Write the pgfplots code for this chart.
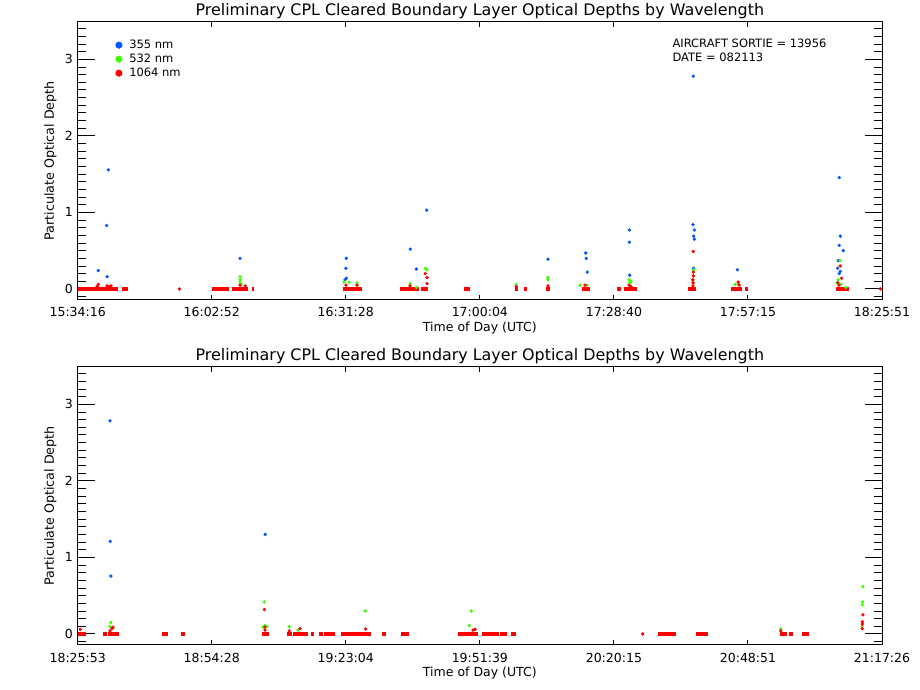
\documentclass[border=0pt]{standalone}
\usepackage{fontspec}
\setmainfont{DejaVu Sans}
\usepackage{pgfplots}
\pgfplotsset{compat=1.18}
\definecolor{cblue}{RGB}{0,85,255}
\definecolor{cgreen}{RGB}{60,255,0}
\definecolor{cred}{RGB}{255,0,0}
\pgfplotsset{
  cplaxis/.style={
    scale only axis, width=804.3pt, height=278.3pt,
    xmin=0, xmax=6, ymin=-0.144, ymax=3.492,
    xtick={0,1,2,3,4,5,6}, ytick={0,1,2,3},
    minor ytick={-0.1,0.1,0.2,0.3,0.4,0.5,0.6,0.7,0.8,0.9,1.1,1.2,1.3,1.4,1.5,1.6,1.7,1.8,1.9,2.1,2.2,2.3,2.4,2.5,2.6,2.7,2.8,2.9,3.1,3.2,3.3,3.4},
    tick align=inside,
    axis line style={line width=1pt},
    tick style={black, line width=1pt},
    major tick length=17pt, minor tick length=8pt,
    xtick style={/pgfplots/major tick length=5pt},
    /pgf/number format/assume math mode=true,
    tick label style={font=\fontsize{12.5}{14}\selectfont},
    xticklabel style={anchor=base, yshift=-17pt, inner sep=0pt},
    yticklabel style={anchor=east, inner sep=0pt, xshift=-4.7pt},
    xlabel={Time of Day (UTC)},
    ylabel={Particulate Optical Depth},
    xlabel style={at={(axis description cs:0.5,0)}, anchor=base, yshift=-31.5pt, inner sep=0pt, font=\fontsize{12.5}{14}\selectfont},
    ylabel style={at={(axis description cs:0,0.5)}, anchor=base, yshift=23.7pt, inner sep=0pt, font=\fontsize{12.7}{14}\selectfont},
    title={Preliminary CPL Cleared Boundary Layer Optical Depths by Wavelength},
    title style={at={(axis description cs:0.5,1)}, anchor=base, yshift=-0.3pt, inner sep=0pt, font=\fontsize{15.9}{18}\selectfont},
    unbounded coords=jump,
  },
  bl/.style={only marks, mark=*, color=cblue, mark size=1.5pt},
  gr/.style={only marks, mark=*, color=cgreen, mark size=1.5pt},
  rd/.style={only marks, mark=*, color=cred, mark size=1.5pt},
  strip/.style={no markers, color=cred, line width=3.3pt, line cap=butt, forget plot},
}
\begin{document}
\begin{tikzpicture}
\useasboundingbox (0,0) rectangle (920pt,690pt);
% ---------------- top panel ----------------
\begin{axis}[cplaxis, at={(77.7pt,390pt)}, anchor=south west,
  xticklabels={15:34:16,16:02:52,16:31:28,17:00:04,17:28:40,17:57:15,18:25:51},
  legend style={draw=none, fill=none, inner sep=0pt, outer sep=0pt,
    at={(axis description cs:0.0472,0.941)}, anchor=north west,
    font=\fontsize{11.5}{13}\selectfont,
    nodes={inner sep=0pt, text height=10.6pt, text depth=3.4pt}},
  legend cell align=left,
  legend image code/.code={\path[draw=none,fill=none] (-3.3pt,0pt) rectangle (10.3pt,0pt); \draw[#1, mark size=3.3pt] plot coordinates {(0pt,0pt)};},
]
\addplot[bl] coordinates {(0.154,0.24)(0.216,0.83)(0.219,0.16)(0.228,1.556)(1.211,0.40)(2.004,0.40)(2.001,0.27)(2.004,0.14)(1.994,0.12)(2.481,0.52)(2.526,0.26)(2.604,1.03)(3.508,0.39)(3.790,0.47)(3.794,0.40)(3.801,0.22)(4.115,0.77)(4.115,0.61)(4.118,0.18)(4.592,2.78)(4.590,0.84)(4.600,0.77)(4.595,0.69)(4.600,0.65)(4.595,0.27)(4.921,0.25)(5.681,1.455)(5.689,0.69)(5.681,0.57)(5.711,0.50)(5.674,0.37)(5.669,0.27)(5.689,0.23)(5.681,0.20)};
\addlegendentry{355 nm}
\addplot[gr] coordinates {(1.211,0.16)(1.211,0.12)(1.211,0.09)(1.219,0.06)(1.987,0.09)(2.024,0.09)(2.084,0.08)(2.084,0.05)(2.481,0.07)(2.526,0.02)(2.593,0.27)(2.606,0.25)(3.272,0.06)(3.508,0.15)(3.508,0.12)(3.747,0.05)(3.799,0.05)(4.113,0.12)(4.128,0.10)(4.121,0.08)(4.595,0.25)(4.595,0.17)(4.590,0.12)(4.586,0.08)(4.905,0.06)(4.927,0.06)(5.687,0.37)(5.672,0.12)(5.664,0.08)(5.694,0.06)(5.731,0.02)};
\addlegendentry{532 nm}
\addplot[rd] coordinates {(0.154,0.06)(0.144,0.03)(0.219,0.04)(0.248,0.04)(0.233,0.03)(0.758,0)(1.211,0.05)(1.249,0.04)(2.001,0.05)(2.084,0.05)(2.479,0.04)(2.593,0.20)(2.606,0.15)(2.606,0.07)(3.272,0.03)(3.508,0.04)(3.785,0.05)(4.113,0.05)(4.128,0.03)(4.592,0.49)(4.592,0.22)(4.592,0.17)(4.588,0.12)(4.592,0.08)(4.590,0.04)(4.927,0.09)(4.935,0.05)(5.687,0.30)(5.699,0.14)(5.679,0.05)(5.672,0.08)(5.987,0)};
\addlegendentry{1064 nm}
\addplot[strip] coordinates {(0,0)(0.298,0)(0.31,nan)(0.328,0)(0.377,0)(0.5,nan)(1.004,0)(1.131,0)(1.14,nan)(1.149,0)(1.268,0)(1.28,nan)(1.298,0)(1.313,0)(1.5,nan)(1.981,0)(2.119,0)(2.2,nan)(2.404,0)(2.544,0)(2.55,nan)(2.561,0)(2.611,0)(2.7,nan)(2.882,0)(2.924,0)(3.0,nan)(3.262,0)(3.282,0)(3.3,nan)(3.329,0)(3.349,0)(3.4,nan)(3.497,0)(3.520,0)(3.6,nan)(3.762,0)(3.822,0)(3.9,nan)(4.025,0)(4.051,0)(4.06,nan)(4.078,0)(4.170,0)(4.3,nan)(4.551,0)(4.613,0)(4.7,nan)(4.874,0)(4.953,0)(4.96,nan)(4.978,0)(4.998,0)(5.2,nan)(5.657,0)(5.752,0)};
\node[anchor=base west, font=\fontsize{11.5}{13}\selectfont, inner sep=0pt] at (axis description cs:0.7393,0.9066) {AIRCRAFT SORTIE = 13956};
\node[anchor=base west, font=\fontsize{11.5}{13}\selectfont, inner sep=0pt] at (axis description cs:0.7393,0.856) {DATE = 082113};
\end{axis}
% ---------------- bottom panel ----------------
\begin{axis}[cplaxis, at={(77.7pt,45pt)}, anchor=south west,
  xticklabels={18:25:53,18:54:28,19:23:04,19:51:39,20:20:15,20:48:51,21:17:26},
]
\addplot[bl] coordinates {(0.241,2.785)(0.243,1.21)(0.248,0.757)(1.399,1.30)};
\addplot[gr] coordinates {(0.248,0.15)(0.241,0.10)(0.263,0.08)(1.392,0.42)(1.397,0.11)(1.382,0.09)(1.412,0.10)(1.578,0.095)(1.643,0.05)(2.145,0.30)(2.921,0.11)(2.936,0.30)(2.964,0.06)(5.245,0.065)(5.858,0.62)(5.856,0.42)(5.853,0.38)(5.853,0.10)};
\addplot[rd] coordinates {(0.019,0.06)(0.263,0.09)(0.241,0.04)(0.256,0.07)(1.392,0.32)(1.397,0.09)(1.397,0.05)(1.578,0.04)(1.658,0.07)(2.148,0.065)(2.949,0.05)(2.964,0.06)(5.245,0.04)(5.858,0.25)(5.853,0.16)(5.853,0.13)(5.853,0.07)(4.215,0)};
\addplot[strip] coordinates {(0,0)(0.062,0)(0.1,nan)(0.191,0)(0.216,0)(0.22,nan)(0.228,0)(0.310,0)(0.4,nan)(0.627,0)(0.671,0)(0.7,nan)(0.771,0)(0.800,0)(1.0,nan)(1.375,0)(1.425,0)(1.5,nan)(1.561,0)(1.596,0)(1.6,nan)(1.606,0)(1.716,0)(1.72,nan)(1.738,0)(1.761,0)(1.78,nan)(1.800,0)(1.828,0)(1.83,nan)(1.837,0)(1.919,0)(1.95,nan)(1.964,0)(2.186,0)(2.2,nan)(2.270,0)(2.300,0)(2.35,nan)(2.412,0)(2.471,0)(2.6,nan)(2.837,0)(2.986,0)(3.0,nan)(3.016,0)(3.143,0)(3.145,nan)(3.150,0)(3.203,0)(3.21,nan)(3.232,0)(3.270,0)(3.8,nan)(4.331,0)(4.461,0)(4.5,nan)(4.615,0)(4.700,0)(5.0,nan)(5.239,0)(5.289,0)(5.3,nan)(5.306,0)(5.334,0)(5.36,nan)(5.405,0)(5.453,0)};
\end{axis}
\end{tikzpicture}
\end{document}
